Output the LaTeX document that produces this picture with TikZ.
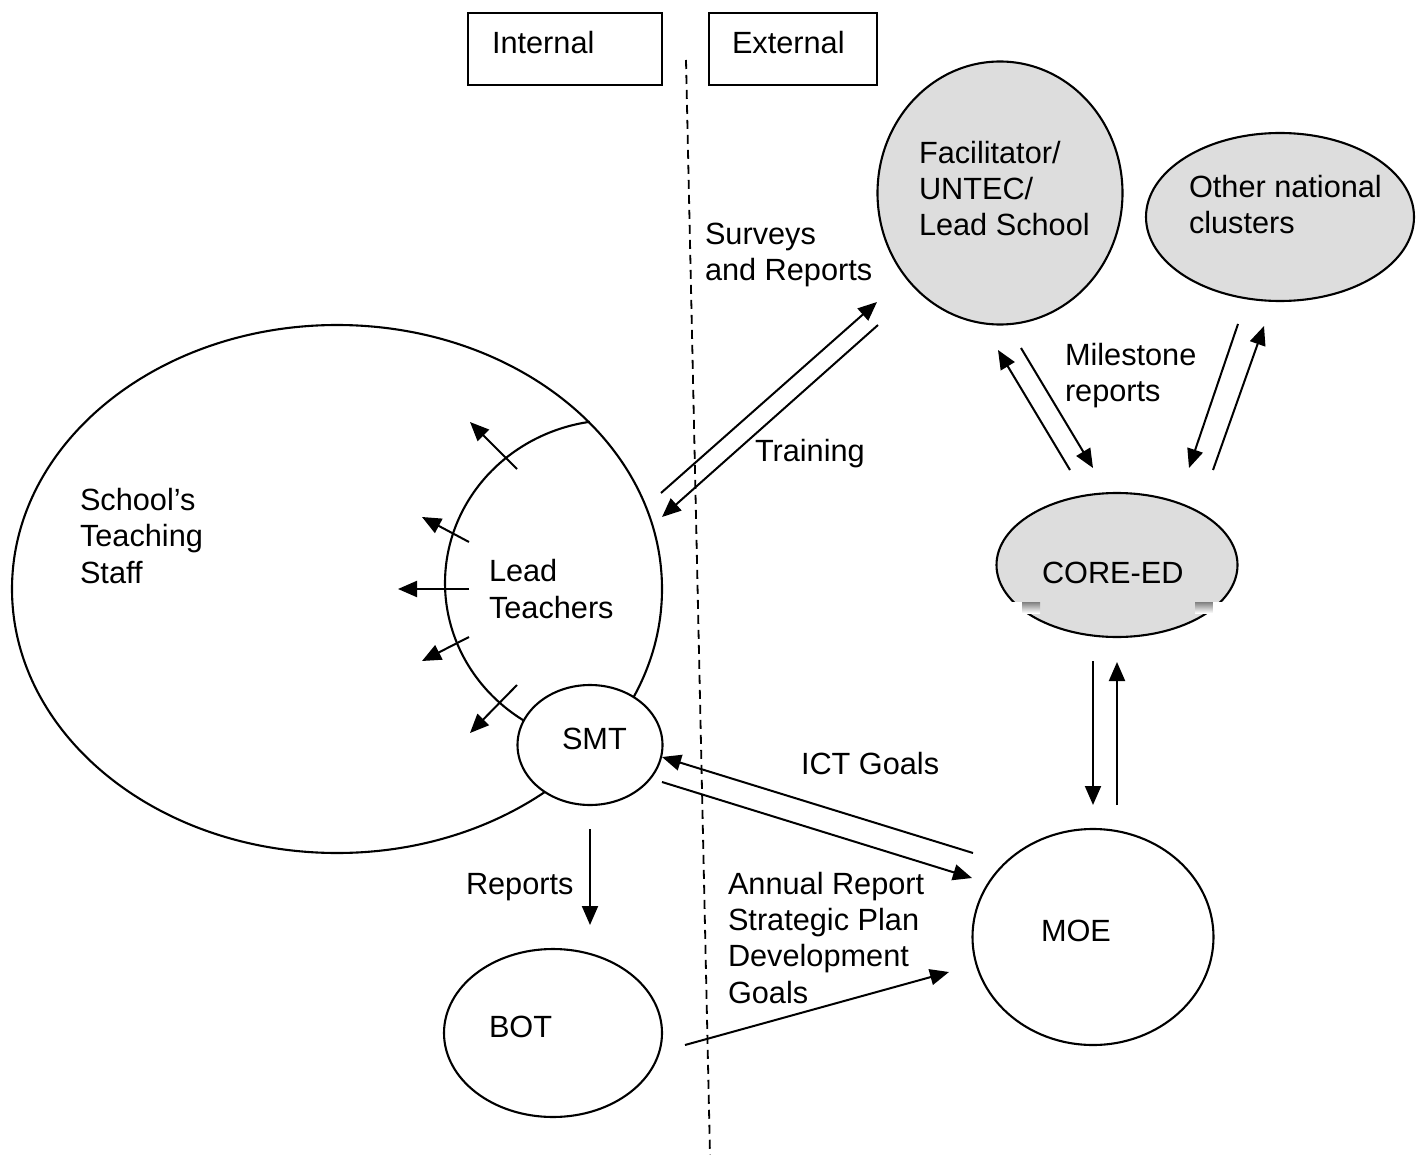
\documentclass[tikz,border=0pt]{standalone}
\usepackage{fontspec}
\setmainfont{Liberation Sans}
\usetikzlibrary{arrows.meta,shapes.geometric}
\definecolor{shade}{RGB}{221,221,221}
\begin{document}
\begin{tikzpicture}[x=1pt,y=-1pt,
  every node/.style={inner sep=0pt, outer sep=0pt},
  shapeline/.style={draw=black, line width=2.1pt},
  oval/.style={shapeline, ellipse, fill=white},
  greyoval/.style={shapeline, ellipse, fill=shade},
  labelbox/.style={shapeline, rectangle},
  txt/.style={anchor=base west, align=left, font=\fontsize{30.7}{36.3}\selectfont},
  conn/.style={line width=2pt, -{Triangle[length=19pt,width=16pt]}},
  divider/.style={line width=1.8pt, dash pattern=on 9pt off 6pt}]
\useasboundingbox (0,0) rectangle (1416,1155);

% header boxes
\node[labelbox, minimum width=194pt, minimum height=72pt] (boxint) at (565,49) {};
\node[labelbox, minimum width=168pt, minimum height=72pt] (boxext) at (793,49) {};
\node[txt] (tint) at (492,54) {Internal};
\node[txt] (text) at (732,54) {External};

% dividing line
\coordinate (divtop) at (686,60);
\coordinate (divbot) at (710,1155);
\draw[divider] (divtop) -- (divbot);

% school staff + lead teachers
\node[oval, fill=none, minimum width=650pt, minimum height=528pt] (staff) at (337,589) {};
\draw[shapeline] plot[domain=98.5:240, samples=120, smooth] ({615+170*cos(\x)}, {583-163*sin(\x)});
\node[oval, minimum width=145pt, minimum height=120pt] (smt) at (590,745) {};

% external ovals
\node[greyoval, minimum width=245pt, minimum height=263pt] (fac) at (1000,193) {};
\node[greyoval, minimum width=268pt, minimum height=168pt] (other) at (1280,217) {};
\node[greyoval, minimum width=241pt, minimum height=144pt] (core) at (1117,565) {};
\fill[white] (1000,602) rectangle (1022,615);
\fill[shade] (1022,602) rectangle (1040,613);
\fill[shade] (1195,602) rectangle (1213,613);
\fill[white] (1213,602) rectangle (1235,615);
\node[oval, minimum width=241pt, minimum height=216pt] (moe) at (1093,937) {};
\node[oval, minimum width=218pt, minimum height=168pt] (bot) at (553,1033) {};

% texts (base = baseline of last line)
\node[txt] (tsurv) at (705,281) {Surveys\\and Reports};
\node[txt] (ttrain) at (755,461) {Training};
\node[txt] (tfac) at (919,236) {Facilitator/\\UNTEC/\\Lead School};
\node[txt] (tother) at (1189,234) {Other national\\clusters};
\node[txt] (tmile) at (1065,402) {Milestone\\reports};
\node[txt] (tcore) at (1042,583) {CORE-ED};
\node[txt] (tstaff) at (80,583) {School’s\\Teaching\\Staff};
\node[txt] (tlead) at (489,618) {Lead\\Teachers};
\node[txt] (tsmt) at (562,749) {SMT};
\node[txt] (tict) at (801,774) {ICT Goals};
\node[txt] (trep) at (466,894) {Reports};
\node[txt] (tann) at (728,1003) {Annual Report\\Strategic Plan\\Development\\Goals};
\node[txt] (tbot) at (489,1037) {BOT};
\node[txt] (tmoe) at (1041,941) {MOE};

% lead teacher arrows
\coordinate (la1) at (517,469); \coordinate (lb1) at (470,422);
\coordinate (la2) at (469,542); \coordinate (lb2) at (422,517);
\coordinate (la3) at (469,589); \coordinate (lb3) at (398,589);
\coordinate (la4) at (469,637); \coordinate (lb4) at (422,661);
\coordinate (la5) at (517,685); \coordinate (lb5) at (470,733);
\foreach \i in {1,...,5} {\draw[conn] (la\i) -- (lb\i);}

% connectors
\coordinate (s1) at (661,493); \coordinate (s2) at (877,302);
\draw[conn] (s1) -- (s2);
\coordinate (t1) at (878,325); \coordinate (t2) at (662,517);
\draw[conn] (t1) -- (t2);
\coordinate (m1) at (1070,470); \coordinate (m2) at (998,350);
\draw[conn] (m1) -- (m2);
\coordinate (m3) at (1021,348); \coordinate (m4) at (1093,468);
\draw[conn] (m3) -- (m4);
\coordinate (o1) at (1238,324); \coordinate (o2) at (1189,468);
\draw[conn] (o1) -- (o2);
\coordinate (o3) at (1213,470); \coordinate (o4) at (1264,326);
\draw[conn] (o3) -- (o4);
\coordinate (c1) at (1093,661); \coordinate (c2) at (1093,805);
\draw[conn] (c1) -- (c2);
\coordinate (c3) at (1117,805); \coordinate (c4) at (1117,662);
\draw[conn] (c3) -- (c4);
\coordinate (i1) at (973,853); \coordinate (i2) at (662,757);
\draw[conn] (i1) -- (i2);
\coordinate (i3) at (662,782); \coordinate (i4) at (972,878);
\draw[conn] (i3) -- (i4);
\coordinate (r1) at (590,829); \coordinate (r2) at (590,925);
\draw[conn] (r1) -- (r2);
\coordinate (b1) at (685,1045); \coordinate (b2) at (949,972);
\draw[conn] (b1) -- (b2);
\end{tikzpicture}
\end{document}
